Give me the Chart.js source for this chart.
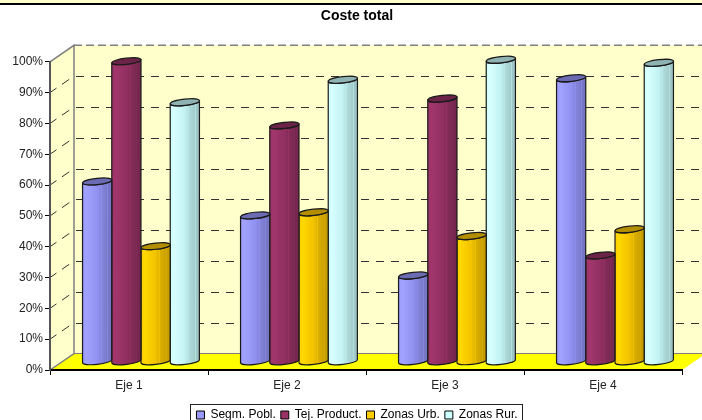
<!DOCTYPE html>
<html>
<head>
<meta charset="utf-8">
<style>
  html, body { margin: 0; padding: 0; background: #fff; overflow: hidden; }
  #wrap { width: 702px; height: 420px; }
</style>
<script src="https://cdn.jsdelivr.net/npm/chart.js@4/dist/chart.umd.js"></script>
</head>
<body>
<div id="wrap"><canvas id="chart" width="702" height="420"></canvas></div>
<script>
// Data
const categories = ['Eje 1', 'Eje 2', 'Eje 3', 'Eje 4'];
const segmPobl = [58.5, 47.5, 28, 92];
const tejProduct = [97.5, 76.7, 85.4, 34.5];
const zonasUrb = [37.5, 48.5, 40.8, 43];
const zonasRur = [84.2, 91.5, 98, 97];
const seriesNames = ['Segm. Pobl.', 'Tej. Product.', 'Zonas Urb.', 'Zonas Rur.'];
const seriesColors = ['#9999ff', '#993366', '#ffcc00', '#ccffff'];

// Depth of the 3D box, front edge to back wall
const DEPTH_X = 24;
const DEPTH_Y = 16.5;
const FONT = '"Liberation Sans", Arial, sans-serif';

function shade(hex, k) {
  const n = parseInt(hex.slice(1), 16);
  const c = [n >> 16, (n >> 8) & 255, n & 255].map(v => Math.min(255, Math.round(v * k)));
  return `rgb(${c[0]},${c[1]},${c[2]})`;
}

// Cylinder in place of the flat bar
class Cylinder extends Chart.BarElement {
  draw(ctx) {
    const { x, y, base, width } = this;
    const color = this.options.backgroundColor;
    const rx = width / 2;
    const ry = 3.1;
    const tilt = -0.11;
    const dy = rx * Math.sin(-tilt);
    const grad = ctx.createLinearGradient(x - rx, 0, x + rx, 0);
    grad.addColorStop(0, shade(color, 1.0));
    grad.addColorStop(0.12, shade(color, 1.06));
    grad.addColorStop(0.5, shade(color, 0.95));
    grad.addColorStop(0.62, shade(color, 0.88));
    grad.addColorStop(0.64, shade(color, 0.97));
    grad.addColorStop(0.66, shade(color, 0.86));
    grad.addColorStop(0.84, shade(color, 0.8));
    grad.addColorStop(0.86, shade(color, 0.9));
    grad.addColorStop(0.88, shade(color, 0.78));
    grad.addColorStop(1, shade(color, 0.76));

    ctx.save();
    ctx.lineWidth = 1.2;
    ctx.strokeStyle = '#1a1a1a';
    // body
    ctx.beginPath();
    ctx.moveTo(x - rx, y + dy);
    ctx.lineTo(x - rx, base + dy);
    ctx.ellipse(x, base, rx, ry, tilt, Math.PI, 0, true);
    ctx.lineTo(x + rx, y - dy);
    ctx.ellipse(x, y, rx, ry, tilt, 0, Math.PI, false);
    ctx.closePath();
    ctx.fillStyle = grad;
    ctx.fill();
    ctx.stroke();
    // top cap
    ctx.beginPath();
    ctx.ellipse(x, y, rx, ry, tilt, 0, Math.PI * 2);
    ctx.fillStyle = shade(color, 0.7);
    ctx.fill();
    ctx.stroke();
    ctx.restore();
  }
}
Cylinder.id = 'cylinder';
Cylinder.defaults = Chart.BarElement.defaults;
Cylinder.defaultRoutes = Chart.BarElement.defaultRoutes;

class CylinderController extends Chart.BarController {}
CylinderController.id = 'cylinderBar';
CylinderController.defaults = Object.assign({}, Chart.BarController.defaults, { dataElementType: 'cylinder' });
CylinderController.overrides = Chart.BarController.overrides;
Chart.register(Cylinder, CylinderController);

// Strip at the top, walls, floor and wall grid
const boxPlugin = {
  id: 'box',
  // left padding centres title and legend like the original, the tick labels
  // still need room inside the scale or they get clipped
  afterLayout(chart) {
    chart.scales.y.left = 0;
  },
  beforeDraw(chart) {
    const { ctx, chartArea: a, scales: { y } } = chart;
    const dx = DEPTH_X, dy = DEPTH_Y;
    ctx.save();
    ctx.fillStyle = '#ffffcc';
    ctx.fillRect(0, 0, chart.width, 3);
    ctx.fillStyle = '#000';
    ctx.fillRect(0, 3, chart.width, 2);

    // back wall and side wall
    ctx.fillStyle = '#ffffcc';
    ctx.fillRect(a.left + dx, a.top - dy, a.right - a.left, a.bottom - a.top);
    ctx.beginPath();
    ctx.moveTo(a.left, a.top);
    ctx.lineTo(a.left + dx, a.top - dy);
    ctx.lineTo(a.left + dx, a.bottom - dy);
    ctx.lineTo(a.left, a.bottom);
    ctx.closePath();
    ctx.fill();

    // floor
    ctx.fillStyle = '#ffff00';
    ctx.beginPath();
    ctx.moveTo(a.left, a.bottom);
    ctx.lineTo(a.left + dx, a.bottom - dy);
    ctx.lineTo(a.right + dx, a.bottom - dy);
    ctx.lineTo(a.right, a.bottom);
    ctx.closePath();
    ctx.fill();

    // wall edges
    ctx.strokeStyle = '#808080';
    ctx.lineWidth = 1.5;
    ctx.beginPath();
    ctx.moveTo(a.left, a.top);
    ctx.lineTo(a.left + dx, a.top - dy);
    ctx.lineTo(a.left + dx, a.bottom - dy);
    ctx.lineTo(a.left, a.bottom);
    ctx.stroke();
    ctx.setLineDash([8, 4]);
    ctx.beginPath();
    ctx.moveTo(a.left + dx, a.top - dy);
    ctx.lineTo(a.right + dx, a.top - dy);
    ctx.stroke();
    ctx.setLineDash([]);
    ctx.lineWidth = 1;
    ctx.beginPath();
    ctx.moveTo(a.left + dx, a.bottom - dy);
    ctx.lineTo(a.right + dx, a.bottom - dy);
    ctx.stroke();

    // grid: dashed on the back wall, short dashes on the side wall
    ctx.strokeStyle = '#333';
    y.ticks.forEach((t, i) => {
      if (t.value === 0 || t.value === 100) return;
      const py = y.getPixelForTick(i);
      const by = Math.round(py - dy) + 0.5;
      ctx.setLineDash([8, 7]);
      ctx.beginPath();
      ctx.moveTo(a.left + dx + 2, by);
      ctx.lineTo(a.right + dx, by);
      ctx.stroke();
      ctx.setLineDash([]);
      ctx.beginPath();
      ctx.moveTo(a.left, py);
      ctx.lineTo(a.left + dx * 0.27, py - dy * 0.27);
      ctx.moveTo(a.left + dx * 0.5, py - dy * 0.5);
      ctx.lineTo(a.left + dx * 0.8, py - dy * 0.8);
      ctx.stroke();
    });
    ctx.restore();
  },
  // bars stand halfway down the floor
  beforeDatasetsDraw(chart) {
    chart.ctx.save();
    chart.ctx.translate(DEPTH_X / 2, -DEPTH_Y / 2);
  },
  afterDatasetsDraw(chart) {
    chart.ctx.restore();
  },
  // legend frame, its bottom edge is cut by the window
  afterDraw(chart) {
    const { ctx } = chart;
    ctx.save();
    ctx.strokeStyle = '#222';
    ctx.lineWidth = 1;
    ctx.strokeRect(190.5, 404.5, 332, 30);
    ctx.restore();
  }
};

new Chart(document.getElementById('chart'), {
  type: 'cylinderBar',
  data: {
    labels: categories,
    datasets: [segmPobl, tejProduct, zonasUrb, zonasRur].map((values, i) => ({
      label: seriesNames[i],
      data: values,
      backgroundColor: seriesColors[i],
      borderColor: '#000',
      borderWidth: 1,
      clip: false,
      categoryPercentage: 0.74,
      barPercentage: 1
    }))
  },
  plugins: [boxPlugin],
  options: {
    responsive: false,
    animation: false,
    layout: { padding: { left: 32, right: 20, top: 0, bottom: -11 } },
    plugins: {
      tooltip: { enabled: false },
      title: {
        display: true,
        text: 'Coste total',
        color: '#000',
        font: { family: FONT, size: 14, weight: 'bold' },
        padding: { top: 8, bottom: 37 }
      },
      legend: {
        position: 'bottom',
        labels: {
          boxWidth: 8,
          boxHeight: 8,
          padding: 5,
          color: '#111',
          font: { family: FONT, size: 12 },
          generateLabels(chart) {
            return seriesNames.map((name, i) => ({
              text: name,
              fillStyle: seriesColors[i],
              strokeStyle: '#000',
              lineWidth: 1,
              datasetIndex: i
            }));
          }
        }
      }
    },
    scales: {
      x: {
        grid: { drawOnChartArea: false, drawTicks: true, tickLength: 5, color: '#000', offset: true },
        border: { color: '#000', width: 2 },
        ticks: { color: '#222', font: { family: FONT, size: 12 }, padding: 3, maxRotation: 0 },
        afterFit(scale) { scale.height = 34; }
      },
      y: {
        min: 0,
        max: 100,
        grid: { drawOnChartArea: false, drawTicks: true, tickLength: 5, color: '#000' },
        border: { color: '#555', width: 2 },
        ticks: { stepSize: 10, color: '#222', font: { family: FONT, size: 12 }, padding: 2, callback: v => v + '%' },
        afterFit(scale) { scale.width = 18; }
      }
    }
  }
});
</script>
</body>
</html>
